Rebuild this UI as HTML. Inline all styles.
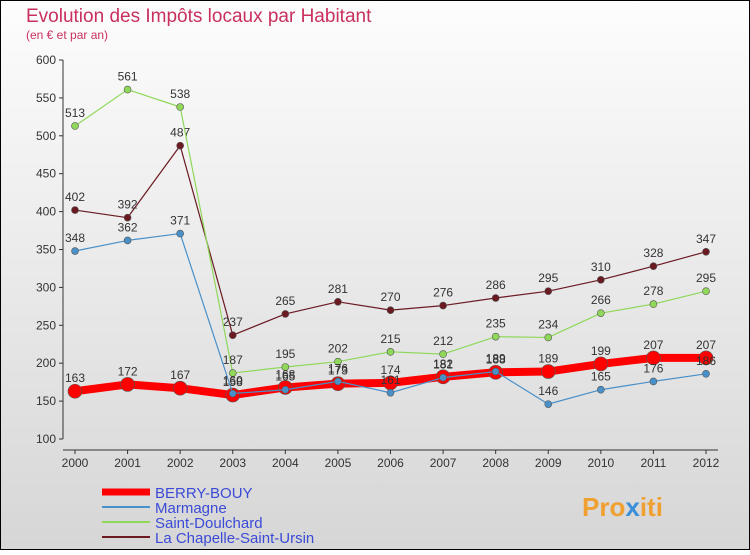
<!DOCTYPE html>
<html><head><meta charset="utf-8"><style>
html,body{margin:0;padding:0}
body{width:750px;height:550px;overflow:hidden;font-family:"Liberation Sans",sans-serif}
</style></head><body>
<svg id="chart" width="750" height="550" viewBox="0 0 750 550" xmlns="http://www.w3.org/2000/svg">
<defs><linearGradient id="bg" x1="0" y1="0" x2="0" y2="1"><stop offset="0" stop-color="#fdfdfd"/><stop offset="1" stop-color="#d6d6d6"/></linearGradient></defs>
<rect x="0.5" y="0.5" width="749" height="549" fill="url(#bg)" stroke="#000"/>
<text x="26" y="22" font-size="19" fill="#c8305e">Evolution des Impôts locaux par Habitant</text>
<text x="26" y="39" font-size="12" fill="#c8305e">(en € et par an)</text>
<g id="axes"></g><g id="series"></g>
<g>
<line x1="102" y1="492" x2="150" y2="492" stroke="#f00" stroke-width="7"/>
<text x="155" y="498" font-size="15" fill="#3b4bd6">BERRY-BOUY</text>
<line x1="102" y1="507" x2="150" y2="507" stroke="#4a90c8" stroke-width="2"/>
<text x="155" y="513" font-size="15" fill="#3b4bd6">Marmagne</text>
<line x1="102" y1="522" x2="150" y2="522" stroke="#8fd85a" stroke-width="2"/>
<text x="155" y="528" font-size="15" fill="#3b4bd6">Saint-Doulchard</text>
<line x1="102" y1="537" x2="150" y2="537" stroke="#6b1a22" stroke-width="2"/>
<text x="155" y="543" font-size="15" fill="#3b4bd6">La Chapelle-Saint-Ursin</text>
</g>
<text x="582" y="516" font-size="26" font-weight="bold" fill="#f0a030">Pro<tspan fill="#3a8fd8">x</tspan>iti</text>
</svg>
<script>
const years=["2000","2001","2002","2003","2004","2005","2006","2007","2008","2009","2010","2011","2012"];
const yTicks=[100,150,200,250,300,350,400,450,500,550,600];
const berry=[163,172,167,158,168,173,174,182,188,189,199,207,207];
const marmagne=[348,362,371,160,165,176,161,181,189,146,165,176,186];
const doulchard=[513,561,538,187,195,202,215,212,235,234,266,278,295];
const chapelle=[402,392,487,237,265,281,270,276,286,295,310,328,347];
const NS="http://www.w3.org/2000/svg";
const xS=i=>75+i*(631/12);
const yS=v=>439-(v-100)*(379/500);
function mk(tag,attrs,parent){const e=document.createElementNS(NS,tag);for(const k in attrs)e.setAttribute(k,attrs[k]);parent.appendChild(e);return e;}
const ax=document.getElementById('axes');
const yl=mk('line',{x1:63,y1:60,x2:63,y2:439,stroke:'#333'},ax);


const xl=mk('line',{x1:63,y1:450,x2:718,y2:450,stroke:'#333'},ax);


yTicks.forEach(v=>{
 mk('line',{x1:59,y1:yS(v),x2:63,y2:yS(v),stroke:'#333'},ax);
 const t=mk('text',{x:56,y:yS(v)+4,'font-size':12,'text-anchor':'end',fill:'#333'},ax);t.textContent=v;
 
 
});
years.forEach((y,i)=>{
 mk('line',{x1:xS(i),y1:450,x2:xS(i),y2:454,stroke:'#333'},ax);
 const t=mk('text',{x:xS(i),y:467,'font-size':12,'text-anchor':'middle',fill:'#333'},ax);t.textContent=y;
 
 
});
const sg=document.getElementById('series');
function series(vals,color,w,r,name){
 const g=mk('g',{},sg);
 
 
 const pl=mk('polyline',{points:vals.map((v,i)=>xS(i)+','+yS(v)).join(' '),fill:'none',stroke:color,'stroke-width':w,'stroke-linejoin':'round'},g);
 
 
 vals.forEach((v,i)=>{
  const c=mk('circle',{cx:xS(i),cy:yS(v),r:r,fill:color,stroke:'#555','stroke-width':0.6},g);
  
  
  const t=mk('text',{x:xS(i),y:yS(v)-9,'font-size':12,'text-anchor':'middle',fill:'#333'},g);t.textContent=v;
  
  
 });
}
series(chapelle,'#6b1a22',1.2,3.5,'la-chapelle-series');
series(doulchard,'#8fd85a',1.2,3.5,'saint-doulchard-series');
series(berry,'#f00',8,7,'berry-bouy-series');
series(marmagne,'#4a90c8',1.2,3.5,'marmagne-series');
</script>
</body></html>
